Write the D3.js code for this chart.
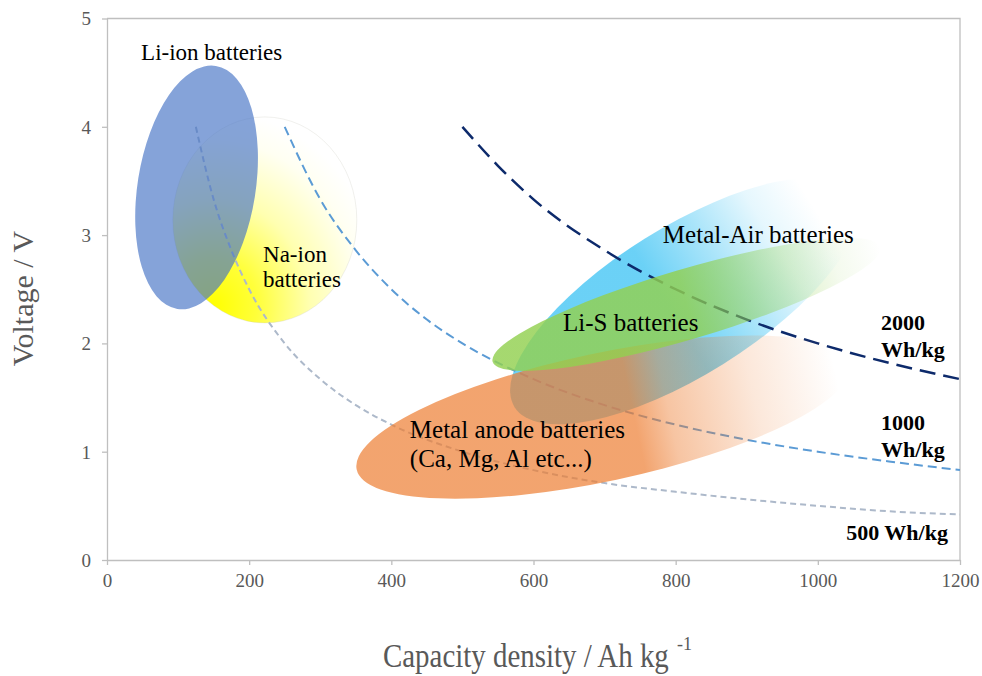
<!DOCTYPE html>
<html>
<head>
<meta charset="utf-8">
<script src="https://cdn.jsdelivr.net/npm/d3@7"></script>
<style>
  html, body { margin: 0; padding: 0; background: #fff; }
  svg { display: block; font-family: "Liberation Serif", "Times New Roman", serif; }
</style>
</head>
<body>
<svg id="chart" width="982" height="676"></svg>
<script>
// ---------------- DATA ----------------
const xTicks = [0, 200, 400, 600, 800, 1000, 1200];
const yTicks = [0, 1, 2, 3, 4, 5];

// iso-energy lines
const cap500  = [125, 150, 175, 200, 250, 300, 350, 400, 500, 600, 700, 800, 900, 1000, 1100, 1200];
const volt500 = [4.00, 3.33, 2.86, 2.50, 2.00, 1.67, 1.43, 1.25, 1.00, 0.83, 0.71, 0.63, 0.56, 0.50, 0.45, 0.42];
const cap1000  = [250, 300, 350, 400, 450, 500, 600, 700, 800, 900, 1000, 1100, 1200];
const volt1000 = [4.00, 3.33, 2.86, 2.50, 2.22, 2.00, 1.67, 1.43, 1.25, 1.11, 1.00, 0.91, 0.83];
const cap2000  = [500, 550, 600, 700, 800, 900, 1000, 1100, 1200];
const volt2000 = [4.00, 3.64, 3.33, 2.86, 2.50, 2.22, 2.00, 1.82, 1.67];

// battery regions: centre capacity / voltage
const regionNames    = ["Na-ion", "Metal-Air", "Li-ion", "Metal anode", "Li-S"];
const regionCapacity = [222, 812, 126, 698, 815];
const regionVoltage  = [3.14, 2.39, 3.44, 1.32, 2.36];

// labels (text lines, anchor capacity, anchor voltage)
const labelLines    = [["Li-ion batteries"], ["Na-ion", "batteries"], ["Metal-Air batteries"], ["Li-S batteries"], ["Metal anode batteries", "(Ca, Mg, Al etc...)"]];
const labelCapacity = [48, 219.5, 782, 641.5, 426];
const labelVoltage  = [4.62, 2.75, 2.93, 2.11, 1.125];

const energyLines    = [["2000", "Wh/kg"], ["1000", "Wh/kg"], ["500 Wh/kg"]];
const energyCapacity = [1089, 1089, 1040];
const energyVoltage  = [2.12, 1.20, 0.185];

// ---------------- STYLE / LAYOUT ----------------
const svg = d3.select("#chart");
const mLeft = 107, mRight = 960, mTop = 18.5, mBottom = 560;
const x = d3.scaleLinear().domain([0, 1200]).range([mLeft, mRight]);
const y = d3.scaleLinear().domain([0, 5]).range([mBottom, mTop]);

const regionStyle = {
  "Na-ion":      { rx: 92,  ry: 103, angle: 0,     fill: "url(#gNa)" },
  "Metal-Air":   { rx: 200, ry: 74,  angle: -32,   fill: "url(#gAir)" },
  "Li-ion":      { rx: 59,  ry: 123, angle: 9,     fill: "#4472C4", opacity: 0.65 },
  "Metal anode": { rx: 252, ry: 64,  angle: -12,   fill: "url(#gMetal)" },
  "Li-S":        { rx: 202, ry: 35,  angle: -16.5, fill: "url(#gLiS)" }
};

const defs = svg.append("defs");
const na = defs.append("radialGradient").attr("id", "gNa")
  .attr("cx", 0.22).attr("cy", 0.92).attr("fx", 0.22).attr("fy", 0.92).attr("r", 0.95);
[[0, "#FFFF00"], [0.25, "#FFFF3a"], [0.55, "#FFFFb0"], [0.85, "#FFFFF2"], [1, "#FFFFFF"]]
  .forEach(s => na.append("stop").attr("offset", s[0]).attr("stop-color", s[1]));

function linGrad(id, color, stops) {
  const g = defs.append("linearGradient").attr("id", id)
    .attr("x1", 0).attr("y1", 0).attr("x2", 1).attr("y2", 0);
  stops.forEach(s => g.append("stop").attr("offset", s[0])
    .attr("stop-color", color).attr("stop-opacity", s[1]));
}
linGrad("gAir", "#00B0F0", [[0, 0.58], [0.46, 0.58], [0.62, 0.34], [0.77, 0.1], [0.9, 0]]);
linGrad("gMetal", "#ED7D31", [[0, 0.7], [0.56, 0.7], [0.63, 0.45], [0.8, 0.18], [0.97, 0]]);
linGrad("gLiS", "#92D050", [[0, 0.82], [0.5, 0.82], [0.7, 0.4], [0.88, 0.1], [1, 0]]);

// ---------------- AXES ----------------
const axisColor = "#bfbfbf";
svg.append("path")
  .attr("d", `M${mLeft},${mTop}H${mRight}V${mBottom}`)
  .attr("fill", "none").attr("stroke", axisColor).attr("stroke-width", 1.3);

const xAxis = svg.append("g").attr("transform", `translate(0,${mBottom})`)
  .call(d3.axisBottom(x).tickValues(xTicks).tickSize(5).tickSizeOuter(0).tickFormat(d3.format("d")));
const yAxis = svg.append("g").attr("transform", `translate(${mLeft},0)`)
  .call(d3.axisLeft(y).tickValues(yTicks).tickSize(5).tickSizeOuter(0).tickFormat(d3.format("d")));
[xAxis, yAxis].forEach(a => {
  a.attr("font-family", null);
  a.select(".domain").attr("stroke", axisColor).attr("stroke-width", 1.3);
  a.selectAll(".tick line").attr("stroke", axisColor).attr("stroke-width", 1.3);
  a.selectAll(".tick text").attr("fill", "#595959")
    .style("font-family", "'Liberation Serif', serif").style("font-size", "19px");
});
xAxis.selectAll(".tick text").attr("y", 14).attr("dy", "0.71em");
yAxis.selectAll(".tick text").attr("x", -16).attr("dy", "0.34em");

svg.append("text").attr("transform", `translate(33,${(230 + 367) / 2}) rotate(-90)`)
  .attr("text-anchor", "middle").attr("fill", "#595959").style("font-size", "30px")
  .text("Voltage / V");

svg.append("text").attr("transform", "translate(383,667) scale(0.876,1)")
  .attr("fill", "#595959").style("font-size", "33px")
  .text("Capacity density / Ah kg");
svg.append("text").attr("x", 677).attr("y", 650)
  .attr("fill", "#595959").style("font-size", "18px").text("-1");

// ---------------- REGIONS & LINES ----------------
function drawRegion(i) {
  const name = regionNames[i], st = regionStyle[name];
  const g = svg.append("g")
    .attr("transform", `translate(${x(regionCapacity[i])},${y(regionVoltage[i])}) rotate(${st.angle})`);
  g.append("ellipse").attr("rx", st.rx).attr("ry", st.ry)
    .attr("fill", st.fill).attr("fill-opacity", st.opacity == null ? 1 : st.opacity)
    .attr("stroke", name === "Na-ion" ? "rgba(200,200,190,0.35)" : "none")
    .attr("stroke-width", 0.8);
}

const lineGen = d3.line().x(d => x(d[0])).y(d => y(d[1])).curve(d3.curveMonotoneX);
function drawLine(caps, volts, color, width, dash) {
  svg.append("path").datum(caps.map((c, i) => [c, volts[i]]))
    .attr("d", lineGen).attr("fill", "none")
    .attr("stroke", color).attr("stroke-width", width).attr("stroke-dasharray", dash);
}

drawRegion(regionNames.indexOf("Na-ion"));
drawRegion(regionNames.indexOf("Metal-Air"));
drawLine(cap500, volt500, "#ADB9CA", 2, "6,4");
drawLine(cap1000, volt1000, "#5B9BD5", 2, "9,5");
drawLine(cap2000, volt2000, "#0d2a6b", 2.5, "16,8");
drawRegion(regionNames.indexOf("Li-ion"));
drawRegion(regionNames.indexOf("Metal anode"));
drawRegion(regionNames.indexOf("Li-S"));

// ---------------- LABELS ----------------
const labelSize = [23, 23, 25, 25, 25];
labelLines.forEach((lines, i) => {
  const t = svg.append("text").attr("x", x(labelCapacity[i])).attr("y", y(labelVoltage[i]))
    .attr("fill", "#000").style("font-size", labelSize[i] + "px");
  lines.forEach((l, j) => t.append("tspan").attr("x", x(labelCapacity[i]))
    .attr("dy", j === 0 ? 0 : (i === 1 ? 25 : 29)).text(l));
});
energyLines.forEach((lines, i) => {
  const t = svg.append("text").attr("x", x(energyCapacity[i])).attr("y", y(energyVoltage[i]))
    .attr("fill", "#000").style("font-size", "22px").style("font-weight", "bold");
  lines.forEach((l, j) => t.append("tspan").attr("x", x(energyCapacity[i]))
    .attr("dy", j === 0 ? 0 : 27).text(l));
});
</script>
</body>
</html>
